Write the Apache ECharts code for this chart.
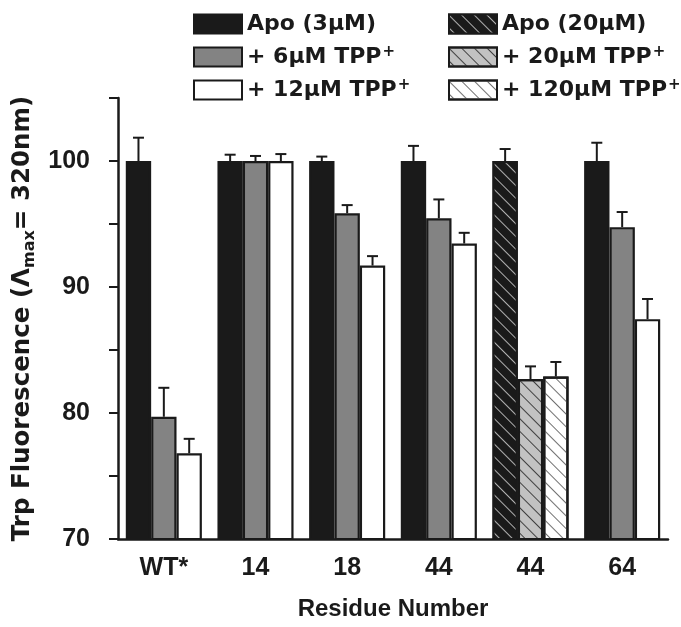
<!DOCTYPE html>
<html>
<head>
<meta charset="utf-8">
<script src="https://cdn.jsdelivr.net/npm/echarts@6/dist/echarts.min.js"></script>
<style>html,body{margin:0;padding:0;background:#fff;}#c{width:681px;height:627px;}</style>
</head>
<body>
<div id="c"></div>
<script>
// ---- data ----
const categories = ['WT*', '14', '18', '44', '44', '64'];
const apo3      = [100, 100, 100, 100, '-', 100];
const apo3Err   = [1.85, 0.5, 0.35, 1.2, '-', 1.45];
const tpp6      = [79.7, 100, 95.85, 95.45, '-', 94.75];
const tpp6Err   = [2.3, 0.4, 0.65, 1.5, '-', 1.2];
const tpp12     = [76.8, 100, 91.7, 93.45, '-', 87.45];
const tpp12Err  = [1.15, 0.55, 0.75, 0.85, '-', 1.6];
const apo20     = ['-', '-', '-', '-', 100, '-'];
const apo20Err  = ['-', '-', '-', '-', 0.95, '-'];
const tpp20     = ['-', '-', '-', '-', 82.7, '-'];
const tpp20Err  = ['-', '-', '-', '-', 1.0, '-'];
const tpp120    = ['-', '-', '-', '-', 82.9, '-'];
const tpp120Err = ['-', '-', '-', '-', 1.15, '-'];
const yTicks = [70, 80, 90, 100];

const names = ['Apo (3μM)', '+ 6μM TPP+', '+ 12μM TPP+', 'Apo (20μM)', '+ 20μM TPP+', '+ 120μM TPP+'];

const INK = '#1a1a1a';
const GAP = 0.17;

function hatch(color) {
  return { symbol: 'rect', symbolSize: 1, dashArrayX: [1, 0], dashArrayY: [1, 7.5], rotation: Math.PI / 4, color: color };
}

function barSeries(name, data, stack, fill, decal) {
  const st = { color: fill, borderColor: INK, borderWidth: 2.2 };
  if (decal) st.decal = decal;
  return { name: name, type: 'bar', stack: stack, data: data, itemStyle: st,
    barCategoryGap: (GAP * 100) + '%', barGap: '0%', z: 2, emphasis: { disabled: true } };
}

function errSeries(vals, errs, slot) {
  const d = [];
  vals.forEach((v, i) => { if (v !== '-' && errs[i] !== '-') d.push([i, v, errs[i]]); });
  return {
    type: 'custom', data: d, z: 3, silent: true,
    encode: { x: 0, y: 1 },
    renderItem: function (params, api) {
      const cat = api.value(0), v = api.value(1), e = api.value(2);
      const band = api.size([1, 0])[0];
      const bw = band * (1 - GAP) / 3;
      const p0 = api.coord([cat, v]);
      const p1 = api.coord([cat, v + e]);
      const x = p0[0] + (slot - 1) * bw;
      const cap = 5.5;
      return { type: 'group', children: [
        { type: 'line', shape: { x1: x, y1: p0[1], x2: x, y2: p1[1] }, style: { stroke: INK, lineWidth: 2 } },
        { type: 'line', shape: { x1: x - cap, y1: p1[1], x2: x + cap, y2: p1[1] }, style: { stroke: INK, lineWidth: 2 } }
      ] };
    }
  };
}

const legendFont = { fontFamily: 'DejaVu Sans', fontWeight: 'bold', color: INK };
function legendCfg(left, data) {
  return {
    orient: 'vertical', left: left, top: 8, itemWidth: 48, itemHeight: 19, itemGap: 7,
    icon: 'rect', selectedMode: false, data: data,
    formatter: function (n) {
      if (n.endsWith('+')) return '{t|' + n.slice(0, -1) + '}{p|+}';
      return '{t|' + n + '}';
    },
    textStyle: { rich: {
      t: Object.assign({ fontSize: 22, lineHeight: 30 }, legendFont),
      p: Object.assign({ fontSize: 15, lineHeight: 15, verticalAlign: 'top', padding: [3, 0, 0, 1] }, legendFont)
    } }
  };
}

const chart = echarts.init(document.getElementById('c'), null, { renderer: 'canvas' });
chart.setOption({
  animation: false,
  backgroundColor: '#fff',
  legend: [legendCfg(188, [names[0], names[1], names[2]]), legendCfg(443, [names[3], names[4], names[5]])],
  grid: { left: 118, right: 13, top: 98, bottom: 88, containLabel: false },
  xAxis: {
    type: 'category', data: categories,
    name: 'Residue Number', nameLocation: 'middle', nameGap: 58,
    nameTextStyle: { fontFamily: 'Liberation Sans', fontWeight: 'bold', fontSize: 24, color: INK },
    axisLine: { lineStyle: { color: INK, width: 2.5 } },
    axisTick: { alignWithLabel: true, length: 9, lineStyle: { color: INK, width: 2 } },
    axisLabel: { margin: 17, fontFamily: 'Liberation Sans', fontWeight: 'bold', fontSize: 25, color: INK }
  },
  yAxis: {
    type: 'value', min: 70, max: 105, interval: 5,
    name: '{a|Trp Fluorescence (Λ}{s|max}{a|= 320nm)}', nameLocation: 'middle', nameGap: 74, nameRotate: 90,
    nameTextStyle: { rich: {
      a: { fontFamily: 'DejaVu Sans', fontWeight: 'bold', fontSize: 24.5, color: INK, lineHeight: 30 },
      s: { fontFamily: 'DejaVu Sans', fontWeight: 'bold', fontSize: 16, color: INK, lineHeight: 16, verticalAlign: 'bottom' }
    } },
    axisLine: { show: true, lineStyle: { color: INK, width: 2.5 } },
    axisTick: { show: true, length: 9, lineStyle: { color: INK, width: 2 } },
    splitLine: { show: false },
    axisLabel: { margin: 28, fontFamily: 'Liberation Sans', fontWeight: 'bold', fontSize: 25, color: INK,
      formatter: function (v) { return yTicks.indexOf(v) >= 0 ? String(v) : ''; } }
  },
  series: [
    barSeries(names[0], apo3, 'g1', INK),
    barSeries(names[1], tpp6, 'g2', '#838383'),
    barSeries(names[2], tpp12, 'g3', '#ffffff'),
    barSeries(names[3], apo20, 'g1', INK, hatch('#b0b0b0')),
    barSeries(names[4], tpp20, 'g2', '#c2c2c2', hatch('#404040')),
    barSeries(names[5], tpp120, 'g3', '#ffffff', hatch('#707070')),
    errSeries(apo3, apo3Err, 0),
    errSeries(tpp6, tpp6Err, 1),
    errSeries(tpp12, tpp12Err, 2),
    errSeries(apo20, apo20Err, 0),
    errSeries(tpp20, tpp20Err, 1),
    errSeries(tpp120, tpp120Err, 2)
  ]
});
</script>
</body>
</html>
